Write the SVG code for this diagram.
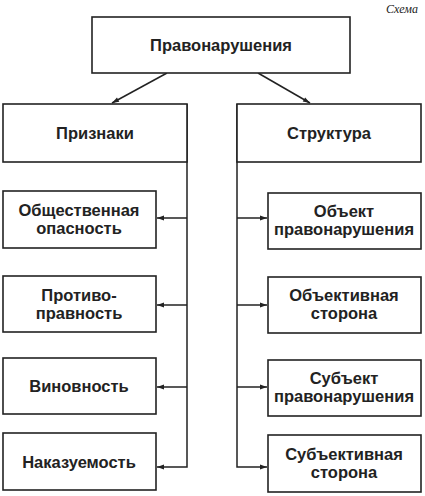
<svg xmlns="http://www.w3.org/2000/svg" width="425" height="496" viewBox="0 0 425 496">
<style>
.box{fill:#fff;stroke:#222;stroke-width:1.6}
.t{font-family:"Liberation Sans",Arial,sans-serif;font-weight:bold;font-size:16.5px;fill:#222;text-anchor:middle}
.c{fill:none;stroke:#222;stroke-width:1.5}
</style>
<defs>
<marker id="ah" viewBox="0 0 10 10" refX="10" refY="5" markerWidth="9" markerHeight="7" orient="auto" markerUnits="userSpaceOnUse">
<path d="M0,1.5 L10,5 L0,8.5 z" fill="#222"/>
</marker>
</defs>
<rect width="425" height="496" fill="#fff"/>
<text x="418" y="13" font-family="'Liberation Serif',serif" font-style="italic" font-size="12" fill="#222" text-anchor="end">Схема</text>
<g id="connectors">
<line class="c" x1="167" y1="73" x2="112" y2="103" marker-end="url(#ah)"/>
<line class="c" x1="258" y1="73" x2="310" y2="103" marker-end="url(#ah)"/>
<polyline class="c" points="187,104 187,467 157,467" marker-end="url(#ah)"/>
<line class="c" x1="187" y1="218" x2="157" y2="218" marker-end="url(#ah)"/>
<line class="c" x1="187" y1="305" x2="157" y2="305" marker-end="url(#ah)"/>
<line class="c" x1="187" y1="387" x2="157" y2="387" marker-end="url(#ah)"/>
<polyline class="c" points="237,104 237,467 267,467" marker-end="url(#ah)"/>
<line class="c" x1="237" y1="218" x2="267" y2="218" marker-end="url(#ah)"/>
<line class="c" x1="237" y1="305" x2="267" y2="305" marker-end="url(#ah)"/>
<line class="c" x1="237" y1="387" x2="267" y2="387" marker-end="url(#ah)"/>
</g>
<g id="n-root"><rect class="box" x="92" y="17" width="258" height="56"/><text class="t" x="221" y="51">Правонарушения</text></g>
<g id="n-priznaki"><rect class="box" x="3" y="104" width="184" height="58"/><text class="t" x="95" y="139">Признаки</text></g>
<g id="n-struktura"><rect class="box" x="237" y="104" width="184" height="58"/><text class="t" x="329" y="139">Структура</text></g>
<g id="n-l1"><rect class="box" x="3" y="191" width="153" height="57"/><text class="t" x="79" y="216">Общественная</text><text class="t" x="79" y="234">опасность</text></g>
<g id="n-l2"><rect class="box" x="3" y="276" width="153" height="56"/><text class="t" x="79" y="301">Противо-</text><text class="t" x="79" y="319">правность</text></g>
<g id="n-l3"><rect class="box" x="3" y="358" width="153" height="56"/><text class="t" x="79" y="392">Виновность</text></g>
<g id="n-l4"><rect class="box" x="3" y="433" width="153" height="57"/><text class="t" x="79" y="468">Наказуемость</text></g>
<g id="n-r1"><rect class="box" x="268" y="193" width="153" height="56"/><text class="t" x="344" y="217">Объект</text><text class="t" x="344" y="235">правонарушения</text></g>
<g id="n-r2"><rect class="box" x="268" y="277" width="153" height="56"/><text class="t" x="344" y="301">Объективная</text><text class="t" x="344" y="319">сторона</text></g>
<g id="n-r3"><rect class="box" x="268" y="360" width="153" height="56"/><text class="t" x="344" y="384">Субъект</text><text class="t" x="344" y="402">правонарушения</text></g>
<g id="n-r4"><rect class="box" x="268" y="435" width="153" height="57"/><text class="t" x="344" y="460">Субъективная</text><text class="t" x="344" y="478">сторона</text></g>
</svg>
